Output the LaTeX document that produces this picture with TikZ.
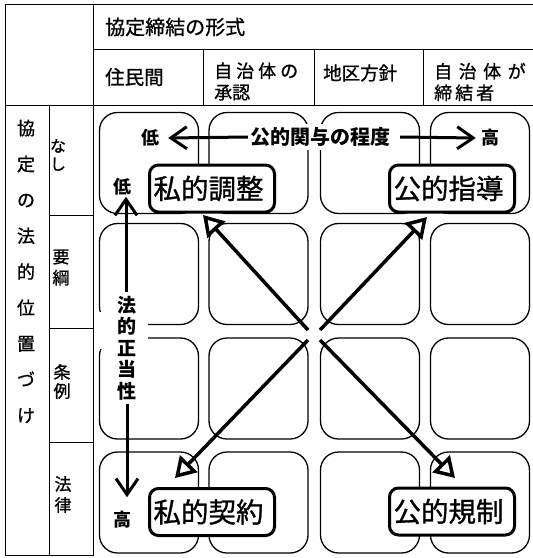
\documentclass[tikz,border=0pt]{standalone}
\usepackage{fontspec}
\setmainfont{Noto Sans CJK JP}[UprightFeatures={FakeBold=1}]
\usetikzlibrary{arrows.meta,calc}
\newcommand\ksa{\kern4pt}
\newcommand\ksb{\kern6.5pt}
\newcommand\ksc{\kern3pt}
\tikzset{
  tbl/.style={line width=1pt, line cap=rect},
  cellbox/.style={draw, line width=1.3pt, rounded corners=18pt, minimum width=99pt, minimum height=101pt, inner sep=0pt, outer sep=0pt},
  lab/.style={draw, line width=3pt, rounded corners=9pt, fill=white, text width=117pt, inner xsep=4pt, inner ysep=0pt, minimum height=47pt, align=left, font=\fontsize{27.5}{27.5}\selectfont, anchor=west},
  hd/.style={anchor=west, inner sep=0pt, font=\fontsize{20}{22}\selectfont},
  sub/.style={anchor=west, inner sep=0pt, align=left, font=\fontsize{18}{21.5}\selectfont},
  vlab/.style={inner sep=0pt, align=center},
  bl/.style={font=\bfseries\fontsize{18}{18}\selectfont, inner sep=1pt},
  bigarrow/.style={line width=3pt, -{Straight Barb[length=16pt,width=22pt]}},
  diag/.style={line width=3.5pt, -{Triangle[length=20pt,width=24pt,fill=white]}},
}
\begin{document}
\begin{tikzpicture}[x=1pt,y=-1pt]
\useasboundingbox (0,0) rectangle (533,558);
% table
\draw[tbl] (5,4) -- (533,4);
\draw[tbl] (5,4) -- (5,555) -- (93,555);
\draw[tbl] (93,4) -- (93,555);
\draw[tbl] (49,105) -- (49,555);
\draw[tbl] (93,49) -- (533,49);
\draw[tbl] (5,105) -- (533,105);
\foreach \xx in {203,314,423} \draw[tbl] (\xx,49) -- (\xx,105);
\foreach \yy in {215,328,442} \draw[tbl] (49,\yy) -- (93,\yy);
% header texts
\node[hd] (h0) at (105,27) {協定締結の形式};
\node[hd, font=\fontsize{19.5}{22}\selectfont] (h1) at (105,77) {住民間};
\node[sub] (h2) at (214,81.5) {自\ksa 治\ksa 体\ksa の\\承認};
\node[sub, font=\fontsize{18.5}{21}\selectfont] (h3) at (323,73) {地区方針};
\node[sub] (h4) at (434,82) {自\ksb 治\ksb 体\ksb が\\締\ksc 結\ksc 者};
% left labels
\node[vlab, font=\fontsize{18}{35.9}\selectfont] (lpos) at (26,271.5) {協\\定\\の\\法\\的\\位\\置\\づ\\け};
\node[vlab, font=\fontsize{16}{18}\selectfont] (r1) at (58,155) {な\\し};
\node[vlab, font=\fontsize{17}{21}\selectfont] (r2) at (61,267.5) {要\\綱};
\node[vlab, font=\fontsize{17}{19}\selectfont] (r3) at (62,381.5) {条\\例};
\node[vlab, font=\fontsize{17}{21}\selectfont] (r4) at (63,494.5) {法\\律};
% cell boxes
\foreach \xx [count=\i] in {149,258.5,370,480}
  \foreach \yy [count=\j] in {163,274,388.5,502.5}
    \node[cellbox] (b\j\i) at (\xx,\yy) {};
\fill[white] (95,312) rectangle (148,349);
% axis labels
\node[bl] (lowH) at (150,138) {低};
\node[bl, fill=white, inner xsep=4pt, inner ysep=3pt, font=\bfseries\fontsize{20}{20}\selectfont] (deg) at (320,137) {公的関与の程度};
\node[bl] (highH) at (490,138) {高};
\node[bl] (lowV) at (122,187) {低};
\node[bl, fill=white, align=center, inner sep=4pt, font=\bfseries\fontsize{19}{21.5}\selectfont] (legit) at (127,348) {法\\的\\正\\当\\性};
\node[bl] (highV) at (122,520) {高};
\draw[bigarrow] ([xshift=2pt]deg.west) -- ([xshift=8pt]lowH.east);
\draw[bigarrow] ([xshift=6pt]deg.east) -- ([xshift=-4pt]highH.west);
\draw[bigarrow] ([xshift=-1pt]legit.north) -- ([xshift=4pt]lowV.south);
\draw[bigarrow, shorten >=13pt] (legit.south) -- ([xshift=5pt]highV.north);
% diagonal arrows
\coordinate (sNW) at (308,330);
\coordinate (sNE) at (320,330);
\coordinate (sSW) at (308,340);
\coordinate (sSE) at (320,340);
\coordinate (tNW) at (203,215);
\coordinate (tNE) at (427,217);
\coordinate (tSW) at (175,478);
\coordinate (tSE) at (455,478);
\draw[diag] (sNW) -- (tNW);
\draw[diag] (sNE) -- (tNE);
\draw[diag] (sSW) -- (tSW);
\draw[diag] (sSE) -- (tSE);
% label boxes
\node[lab] (pc) at (148,188.5) {私的調整};
\node[lab] (pg) at (388,188.5) {公的指導};
\node[lab] (pk) at (148,512) {私的契約};
\node[lab] (pr) at (388,511.5) {公的規制};
\end{tikzpicture}
\end{document}
